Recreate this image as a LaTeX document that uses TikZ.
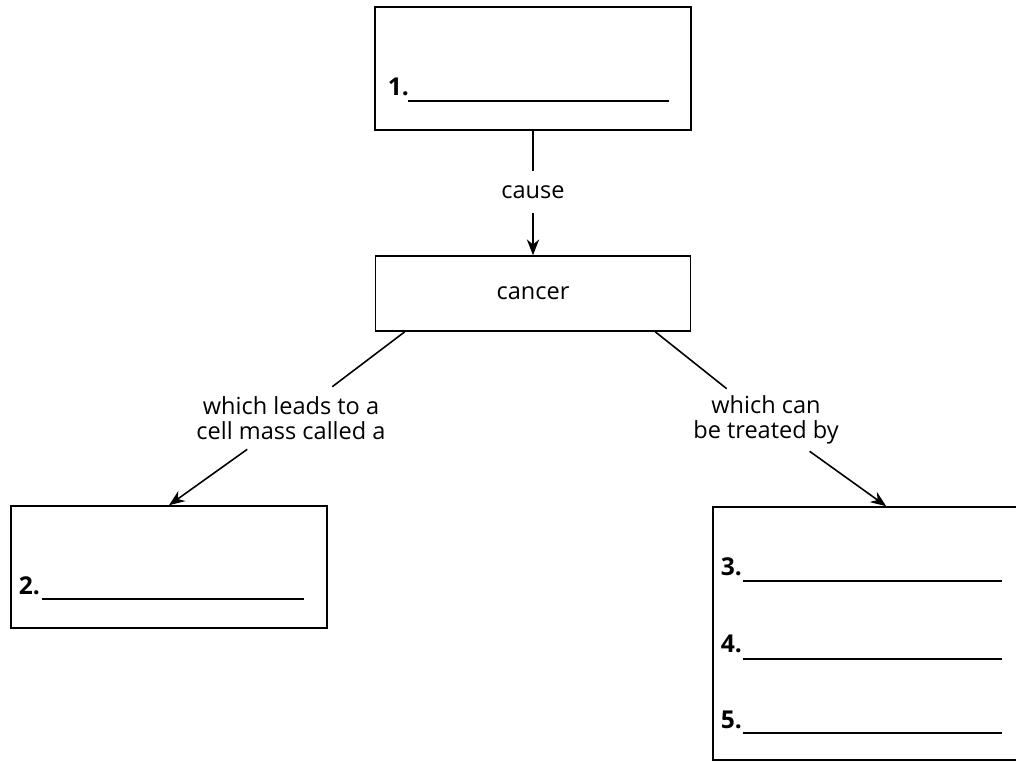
\documentclass[tikz,border=0pt]{standalone}
\usepackage{fontspec}
\setmainfont{Open Sans}
\usetikzlibrary{arrows.meta}

\begin{document}
\begin{tikzpicture}[x=0.02cm,y=-0.02cm,line width=0.9pt,font=\fontsize{13.4}{14.2}\selectfont]
  \tikzstyle{BoxStyle}=[draw,rectangle,inner sep=0pt]
  \tikzstyle{LabelStyle}=[align=center,inner sep=0pt,minimum height=1.22cm]
  \tikzstyle{NumStyle}=[font=\fontsize{14}{15}\selectfont\bfseries,inner sep=0pt,anchor=base west]
  \tikzstyle{EdgeStyle}=[-{Stealth[length=9pt,width=7pt]}]

  \useasboundingbox (0,0) rectangle (1016,762);

  \begin{scope}
    \clip (0,0) rectangle (1016,762);
    \node[BoxStyle,minimum width=6.32cm,minimum height=2.46cm] (a) at (533,68.5) {};
    \node[BoxStyle,minimum width=6.3cm,minimum height=1.5cm] (c) at (533,293.5) {cancer};
    \node[BoxStyle,minimum width=6.32cm,minimum height=2.44cm] (t) at (169,567) {};
    \node[BoxStyle,minimum width=6.4cm,minimum height=5.06cm] (r) at (873,633.5) {};
  \end{scope}

  \node[LabelStyle,minimum height=0.8cm] (cause) at (533,192) {cause};
  \node[LabelStyle] (lead) at (291,418) {which leads to a\\cell mass called a};
  \node[LabelStyle] (treat) at (766,420) {which can\\be treated by};

  \draw (a.south) -- (cause.north);
  \draw[EdgeStyle] (cause.south) -- (c.north);
  \draw ([xshift=0.6cm]c.south west) -- (lead);
  \draw[EdgeStyle] (lead) -- (t.north);
  \draw ([xshift=-0.72cm]c.south east) -- (treat);
  \draw[EdgeStyle] (treat) -- ([xshift=3.48cm]r.north west);

  % blanks
  \node[NumStyle] (n1) at (387,95) {1.};
  \node[NumStyle] (n2) at (18,594) {2.};
  \node[NumStyle] (n3) at (720,575) {3.};
  \node[NumStyle] (n4) at (720,652) {4.};
  \node[NumStyle] (n5) at (720,728) {5.};
  \draw ([shift={(21,6)}]n1.base west) -- +(261,0);
  \draw ([shift={(24,5)}]n2.base west) -- +(262,0);
  \draw ([shift={(23,6)}]n3.base west) -- +(259,0);
  \draw ([shift={(23,7)}]n4.base west) -- +(259,0);
  \draw ([shift={(23,5)}]n5.base west) -- +(259,0);
\end{tikzpicture}
\end{document}
